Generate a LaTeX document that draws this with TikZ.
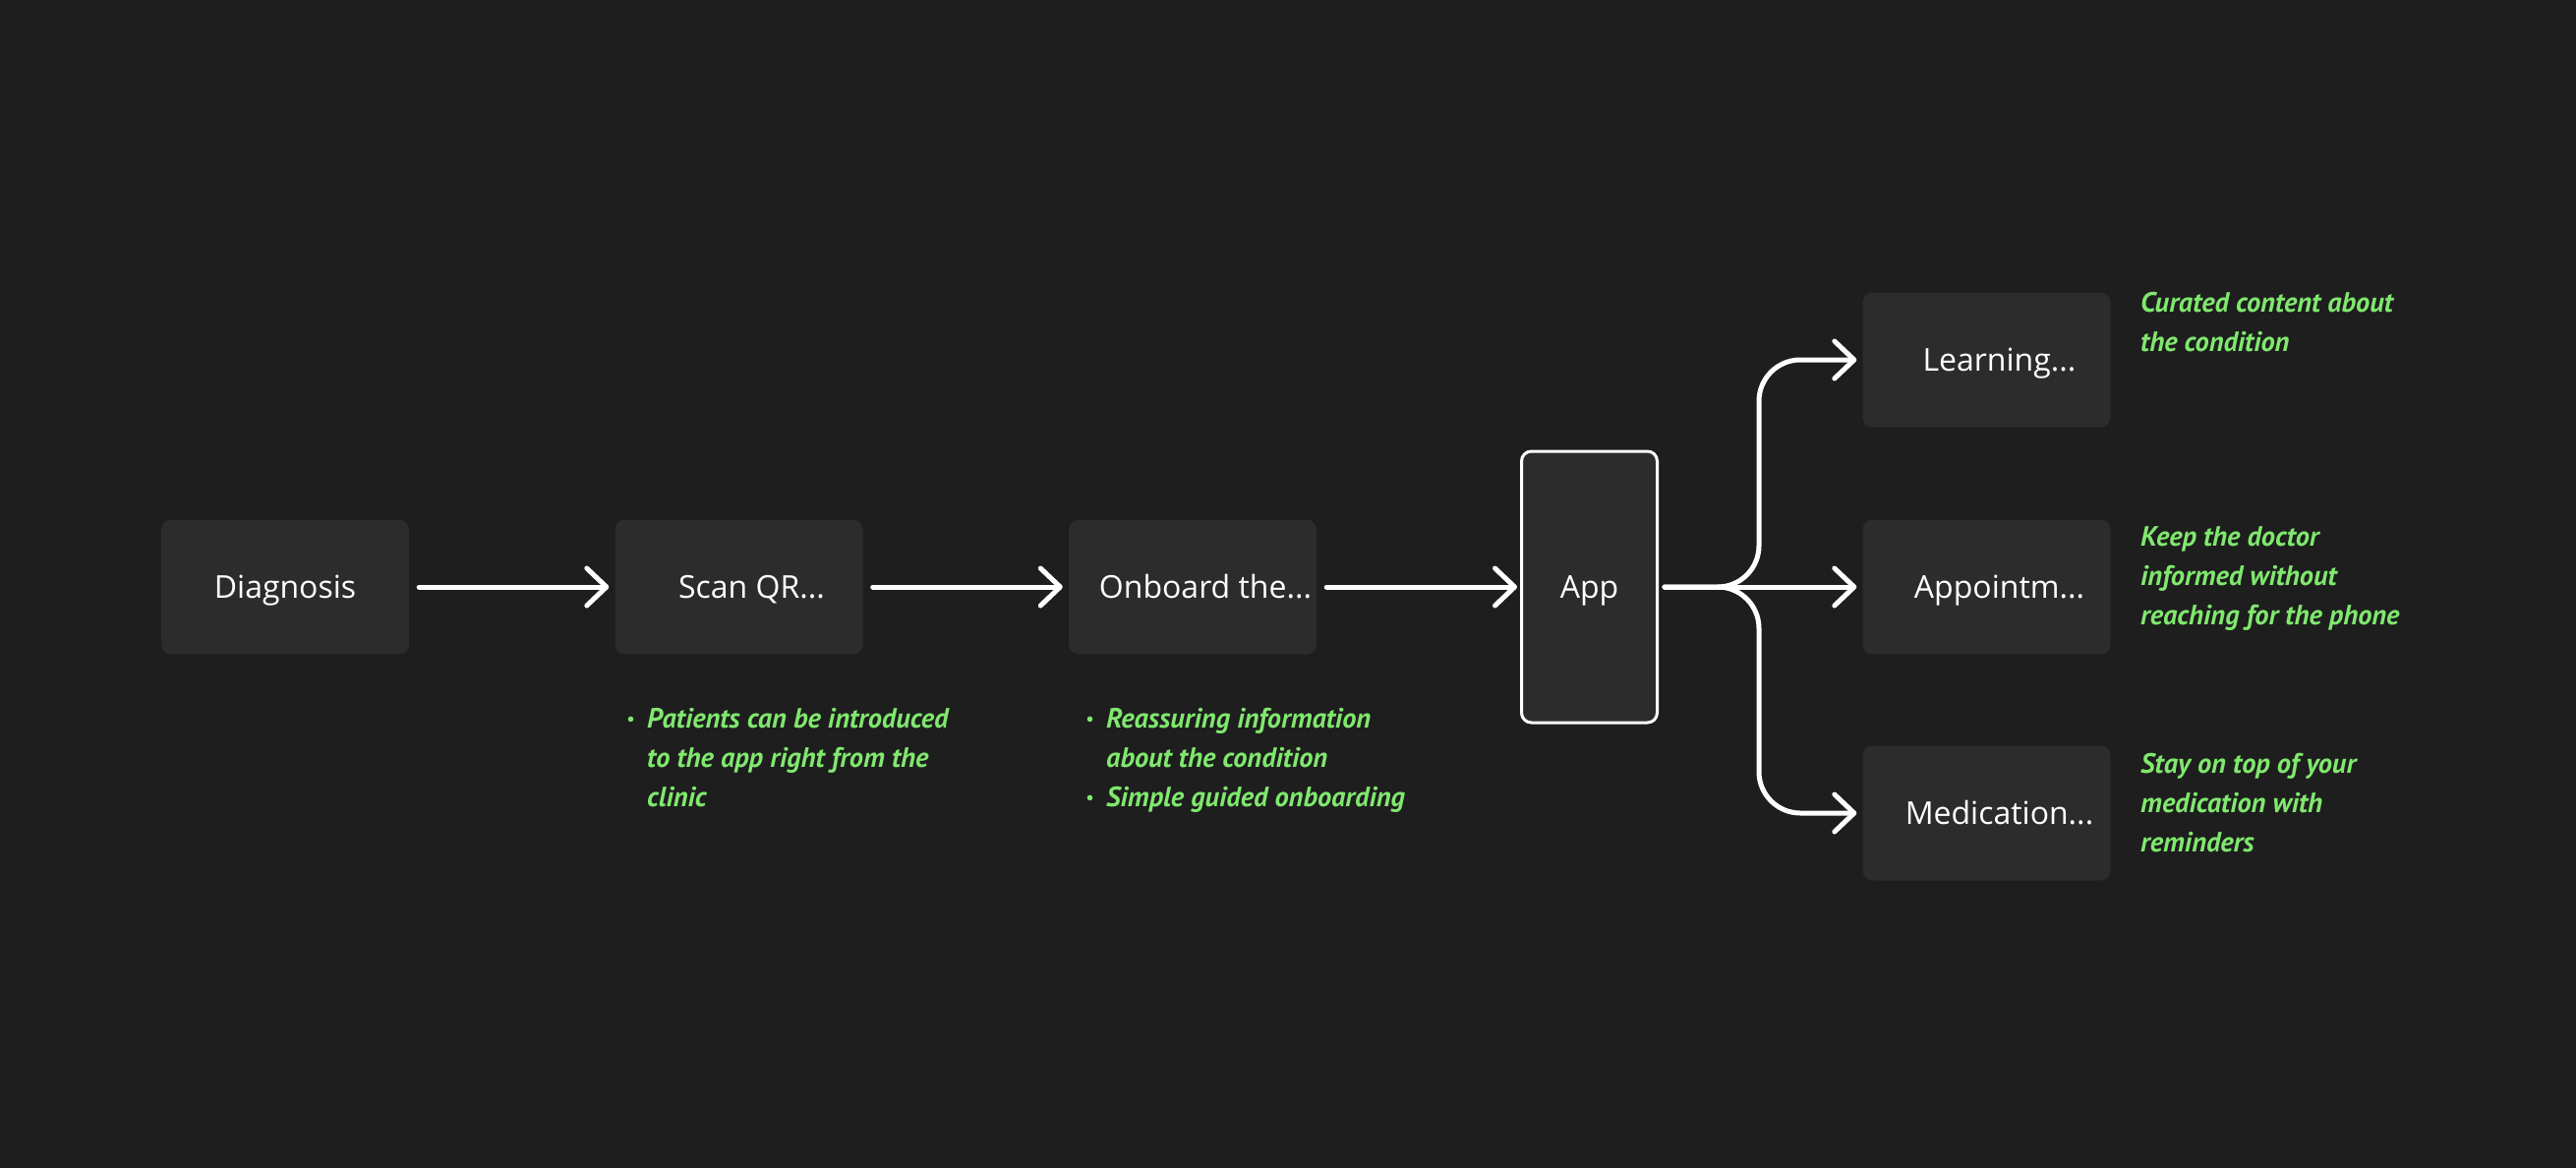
\documentclass[tikz,border=0pt]{standalone}
\usepackage{fontspec}
\setmainfont{Open Sans}
\newfontfamily\notefont{PT Sans}
\usetikzlibrary{arrows.meta}
\definecolor{bg}{HTML}{1E1E1E}
\definecolor{boxc}{HTML}{2C2C2C}
\definecolor{notec}{HTML}{80E86E}
\newcommand{\notebullet}{\llap{\raisebox{3pt}{\fontsize{18}{18}\selectfont •}\hspace{13pt}}}
\begin{document}
\begin{tikzpicture}[x=1pt,y=-1pt,
  stepbox/.style={fill=boxc, rounded corners=10pt, minimum width=252pt, minimum height=137pt,
    inner sep=0pt, text=white, text height=23pt, text depth=0pt,
    font=\fontsize{32}{38}\selectfont},
  appbox/.style={draw=white, line width=3pt, fill=boxc, rounded corners=10pt,
    minimum width=138pt, minimum height=276pt, inner sep=0pt, text=white,
    text height=23pt, text depth=0pt, font=\fontsize{32}{38}\selectfont},
  conn/.style={draw=white, line width=5pt, line cap=round, line join=round,
    -{Straight Barb[length=20pt,width=38pt,round]}, shorten <=10pt, shorten >=6pt},
  note/.style={text=notec, font=\notefont\bfseries\itshape\fontsize{28.4}{40}\selectfont,
    align=left, anchor=north west, inner sep=0pt}]
\path[fill=bg] (0,0) rectangle (2620,1188);

\node[stepbox] (diag) at (290,597) {Diagnosis};
\node[stepbox] (scan) at (751.5,597) {\hspace*{26pt}Scan QR...};
\node[stepbox] (onb) at (1213,597) {\hspace*{26pt}Onboard the...};
\node[appbox] (app) at (1616.5,597) {App};
\node[stepbox] (learn) at (2020.5,366) {\hspace*{26pt}Learning...};
\node[stepbox] (appt) at (2020.5,597) {\hspace*{26pt}Appointm...};
\node[stepbox] (med) at (2020.5,827) {\hspace*{26pt}Medication...};

\draw[conn] (diag) -- (scan);
\draw[conn] (scan) -- (onb);
\draw[conn, shorten >=3pt] (onb) -- (app);

\coordinate (fork) at (1789,597);
\draw[conn, shorten <=6pt, rounded corners=42pt] (app.east) -- (fork) |- (learn.west);
\draw[conn, shorten <=6pt] (app.east) -- (appt.west);
\draw[conn, shorten <=6pt, rounded corners=42pt] (app.east) -- (fork) |- (med.west);

\node[note] (n1) at (658,720) {\notebullet Patients can be introduced\\to the app right from the\\clinic};
\node[note] (n2) at (1125,720) {\notebullet Reassuring information\\about the condition\\\notebullet Simple guided onboarding};
\node[note] (n3) at (2177,297) {Curated content about\\the condition};
\node[note] (n4) at (2177,535) {Keep the doctor\\informed without\\reaching for the phone};
\node[note] (n5) at (2177,766) {Stay on top of your\\medication with\\reminders};
\end{tikzpicture}
\end{document}
